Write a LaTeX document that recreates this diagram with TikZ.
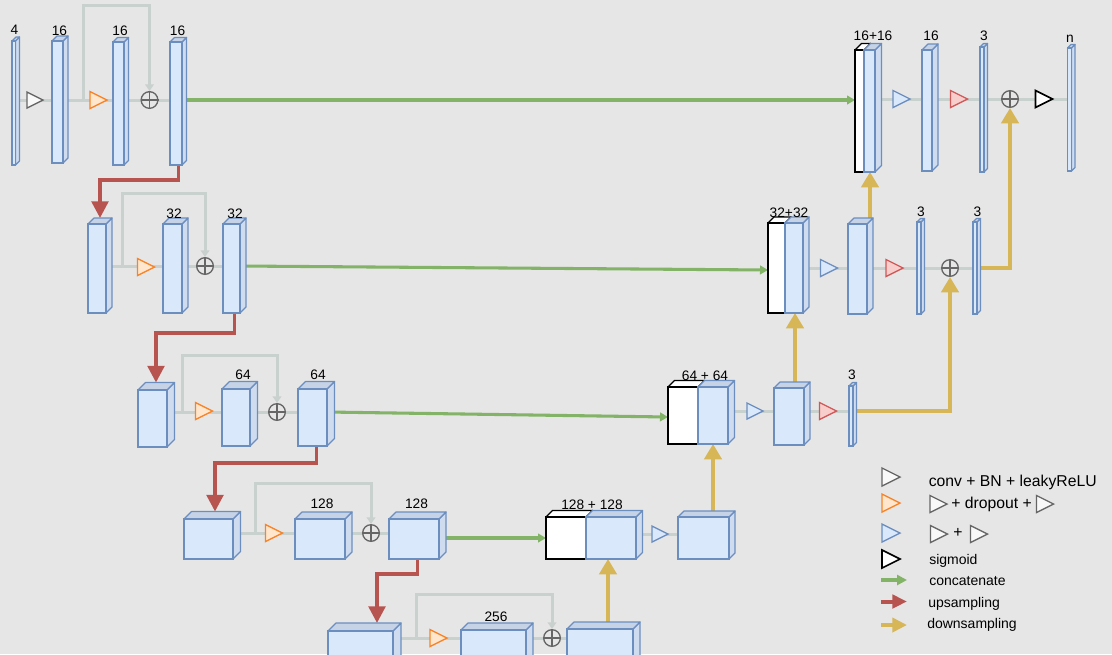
\documentclass[tikz,border=0pt]{standalone}
\usepackage{fontspec}
\setmainfont{Liberation Sans}
\usetikzlibrary{arrows.meta,fit}
\definecolor{bgc}{HTML}{E6E6E6}
\definecolor{bfill}{HTML}{DAE8FC}
\definecolor{bstroke}{HTML}{6C8EBF}
\definecolor{btopc}{HTML}{C6D3E6}
\definecolor{bsidec}{HTML}{CFDCEF}
\definecolor{gline}{HTML}{C9D1CE}
\definecolor{grn}{HTML}{82B366}
\definecolor{rdd}{HTML}{B85450}
\definecolor{ylw}{HTML}{D6B656}
\definecolor{orS}{HTML}{F5842A}
\definecolor{orF}{HTML}{FFE6CC}
\definecolor{rdS}{HTML}{CF5858}
\definecolor{rdF}{HTML}{F8CECC}
\definecolor{opc}{HTML}{666666}
\pgfdeclarelayer{bg}
\pgfsetlayers{bg,main}
\tikzset{
 bfront/.style={draw=bstroke, fill=bfill, line width=0.9pt, inner sep=0pt, outer sep=0pt},
 btop/.style={draw=bstroke, fill=btopc, line width=0.9pt, line join=round},
 bside/.style={draw=bstroke, fill=bsidec, line width=0.9pt, line join=round},
 wfront/.style={draw=black, fill=white, line width=1pt, inner sep=0pt, outer sep=0pt},
 wtop/.style={draw=black, fill=white, line width=1pt, line join=round},
 wside/.style={draw=black, fill=white, line width=1pt, line join=round},
 gtri/.style={draw=opc, fill=white!75!bgc, line width=1pt},
 otri/.style={draw=orS, fill=orF, line width=1pt},
 btri/.style={draw=bstroke, fill=bfill, line width=1pt},
 rtri/.style={draw=rdS, fill=rdF, line width=1pt},
 ktri/.style={draw=black, fill=white, line width=1.2pt},
 oplus/.style={circle, draw=opc, fill=bgc, line width=1pt, minimum size=12.5pt, inner sep=0pt},
 gln/.style={draw=gline, line width=2.25pt},
 skiparr/.style={draw=gline, line width=2.25pt, line join=miter, -{Triangle[length=5pt,width=6.5pt]}},
 garr/.style={draw=grn, line width=2.3pt, -{Triangle[length=6pt,width=6.5pt]}},
 rarr/.style={draw=rdd, line width=2.6pt, line join=miter, -{Triangle[length=12.5pt,width=12.5pt]}},
 yarr/.style={draw=ylw, line width=2.5pt, line join=miter, -{Triangle[length=11.5pt,width=13pt]}},
 lab/.style={inner sep=0pt, font=\fontsize{10.3}{12}\selectfont, anchor=base},
 legbig/.style={inner sep=0pt, font=\fontsize{11.8}{14}\selectfont, anchor=base west},
 legsm/.style={inner sep=0pt, font=\fontsize{10.5}{13}\selectfont, anchor=base west},
}
\newcommand\mkcube[7]{%
  \path[#1side] (#5,#4) -- (#5+#7,#4-#7) -- (#5+#7,#6-#7) -- (#5,#6) -- cycle;
  \path[#1top] (#3,#4) -- (#3+#7,#4-#7) -- (#5+#7,#4-#7) -- (#5,#4) -- cycle;
  \node[#1front, fit={(#3,#4) (#5,#6)}] (#2) {};
  \coordinate (#2-t) at ({(#3+#5+#7)/2},{#4-#7});
  \coordinate (#2-b) at ({(#3+#5+#7)/2},#6);
}
\newcommand\mktri[5]{%
  \coordinate (#2) at (#3,#4);
  \path[#1] (#3-#5,#4-#5) -- (#3+#5,#4) -- (#3-#5,#4+#5) -- cycle;
}
\newcommand\mkoplus[3]{%
  \node[oplus] (#1) at (#2,#3) {};
  \draw[opc, line width=1pt] (#1.north) -- (#1.south) (#1.west) -- (#1.east);
}
\begin{document}
\begin{tikzpicture}[x=0.75pt,y=-0.75pt]
\useasboundingbox (0,0) rectangle (1112,654);
\begin{pgfonlayer}{bg}
\fill[bgc] (0,0) rectangle (1112,654);
\end{pgfonlayer}
\clip (0,0) rectangle (1112,654);
% ---------- row 1 ----------
\mkcube{b}{b11}{12}{41}{15.5}{165}{4}
\mkcube{b}{b12}{52}{41}{63}{163}{5}
\mkcube{b}{b13}{113}{42}{124}{165}{4.5}
\mkcube{b}{b14}{170}{42}{182}{165}{4.5}
\mktri{gtri}{t11}{35}{100}{8}
\mktri{otri}{t12}{98.5}{100}{8.5}
\mkoplus{o11}{149.5}{100}
\mkcube{w}{c1w}{855}{50}{864}{172}{6.5}
\mkcube{b}{c1b}{864}{50}{875}{172}{6.5}
\mktri{btri}{t13}{901.5}{99}{8.5}
\mkcube{b}{b15}{922}{50}{932}{171}{6}
\mktri{rtri}{t14}{959}{99}{8.5}
\mkcube{b}{b16}{980}{47}{984}{172}{3.5}
\mkoplus{o12}{1010}{99}
\mktri{ktri}{t15}{1044}{99}{8.5}
\mkcube{b}{b17}{1067.5}{48}{1071.5}{171}{3.5}
\node[lab] (l11) at (14.5,34) {4};
\node[lab] (l12) at (59.5,35) {16};
\node[lab] (l13) at (120,35) {16};
\node[lab] (l14) at (177.5,35) {16};
\node[lab] (l15) at (873,40) {16+16};
\node[lab] (l16) at (931,40) {16};
\node[lab] (l17) at (984,40) {3};
\node[lab] (l18) at (1070,42) {n};
% ---------- row 2 ----------
\mkcube{b}{b21}{88}{224}{106}{313}{6}
\mktri{otri}{t21}{146}{267}{8.5}
\mkcube{b}{b22}{163}{224}{182}{313}{6}
\mkoplus{o21}{205}{266}
\mkcube{b}{b23}{223}{224}{240}{313}{6}
\mkcube{w}{c2w}{768}{223}{785}{313}{6}
\mkcube{b}{c2b}{785}{223}{803}{313}{6}
\mktri{btri}{t22}{829}{268}{8.5}
\mkcube{b}{b24}{848}{224}{867}{314}{6}
\mktri{rtri}{t23}{894.5}{268}{8.5}
\mkcube{b}{b25}{917}{222}{921}{314}{3.5}
\mkoplus{o22}{950}{268}
\mkcube{b}{b26}{973}{222}{977}{314}{3.5}
\node[lab] (l22) at (174,218) {32};
\node[lab] (l23) at (235,218) {32};
\node[lab] (l24) at (789,217) {32+32};
\node[lab] (l25) at (921,216) {3};
\node[lab] (l26) at (977.5,216) {3};
% ---------- row 3 ----------
\mkcube{b}{b31}{138}{390}{167}{447}{7.5}
\mktri{otri}{t31}{204}{411}{8.5}
\mkcube{b}{b32}{222}{389}{250}{446}{7.5}
\mkoplus{o31}{277}{412}
\mkcube{b}{b33}{298}{389}{327}{446}{7.5}
\mkcube{w}{c3w}{668}{387}{698}{444}{6.5}
\mkcube{b}{c3b}{698}{387}{728}{444}{6.5}
\mktri{btri}{t32}{755}{411}{8}
\mkcube{b}{b34}{774}{388}{804}{445}{6}
\mktri{rtri}{t33}{828}{411}{8.5}
\mkcube{b}{b35}{849}{386}{853}{446}{3.5}
\node[lab] (l32) at (243,379) {64};
\node[lab] (l33) at (318,379) {64};
\node[lab] (l34) at (705,380) {64 + 64};
\node[lab] (l35) at (852,379) {3};
% ---------- row 4 ----------
\mkcube{b}{b41}{184}{519}{233}{559}{7.5}
\mktri{otri}{t41}{274}{533}{8.5}
\mkcube{b}{b42}{295}{519}{345}{559}{7}
\mkoplus{o41}{371}{533}
\mkcube{b}{b43}{389}{519}{439}{559}{7}
\mkcube{w}{c4w}{546}{517}{586}{559}{6.5}
\mkcube{b}{c4b}{586}{517}{636}{559}{6.5}
\mktri{btri}{t42}{660}{534}{8}
\mkcube{b}{b44}{678}{517}{729}{559}{6}
\node[lab] (l42) at (322,508) {128};
\node[lab] (l43) at (416.5,508) {128};
\node[lab] (l44) at (592,509) {128 + 128};
% ---------- row 5 ----------
\mkcube{b}{b51}{328}{631}{393}{690}{8}
\mktri{otri}{t51}{438.5}{638}{8.5}
\mkcube{b}{b52}{461}{630}{526}{690}{7}
\mkoplus{o51}{552}{638}
\mkcube{b}{b53}{567}{629}{633}{690}{7}
\node[lab] (l52) at (496,621) {256};
% ---------- legend ----------
\mktri{gtri}{lg1}{891}{477}{9}
\node[legbig] (lt1) at (928.5,486) {conv + BN + leakyReLU};
\mktri{otri}{lg2}{891}{503}{9}
\mktri{gtri}{lg2a}{938.5}{504}{8.5}
\node[legbig] (lt2) at (951,508) {+ dropout +};
\mktri{gtri}{lg2b}{1045}{504}{8.5}
\mktri{btri}{lg3}{891}{533}{9}
\mktri{gtri}{lg3a}{939}{534}{8.5}
\node[inner sep=0pt, font=\fontsize{11.8}{14}\selectfont] (lt3) at (958,533) {+};
\mktri{gtri}{lg3b}{979}{534}{8.5}
\mktri{ktri}{lg4}{891}{559}{9}
\node[legsm] (lt4) at (929,564) {sigmoid};
\coordinate (la1) at (881,580); \coordinate (la1e) at (907,580);
\node[legsm] (lt5) at (929,585) {concatenate};
\coordinate (la2) at (881,601.5); \coordinate (la2e) at (907,601.5);
\node[legsm] (lt6) at (928,607) {upsampling};
\coordinate (la3) at (881,625); \coordinate (la3e) at (907,625);
\node[legsm] (lt7) at (927,628) {downsampling};
% ---------- helper coordinates ----------
\coordinate (k1) at (83,5);
\coordinate (k2) at (122,193);
\coordinate (k3) at (182,355);
\coordinate (k4) at (255,483);
\coordinate (k5) at (416,594);
\coordinate (r1) at (100,180);
\coordinate (r2) at (156,333);
\coordinate (r3) at (215,463);
\coordinate (r4) at (377,574);
\coordinate (g2) at (0,270);
\coordinate (g3) at (0,417);
\coordinate (g4) at (0,538);
\coordinate (yc1) at (870,0);
\coordinate (yc2) at (795,0);
\coordinate (yc3) at (713,0);
\coordinate (yc4) at (608,0);
% ---------- connectors ----------
\begin{pgfonlayer}{bg}
% gray rows
\draw[gln] (b11.east |- o11) -- (b14.west |- o11);
\draw[gln] (c1b.east |- o12) -- (b17.west |- o12);
\draw[gln] (b21.east |- o21) -- (b23.west |- o21);
\draw[gln] (c2b.east |- o22) -- (b26.west |- o22);
\draw[gln] (b31.east |- o31) -- (b33.west |- o31);
\draw[gln] (c3b.east |- t32) -- (b35.west |- t32);
\draw[gln] (b41.east |- o41) -- (b43.west |- o41);
\draw[gln] (c4b.east |- t42) -- (b44.west |- t42);
\draw[gln] (b51.east |- o51) -- (b53.west |- o51);
% skips
\draw[skiparr] (k1 |- o11) -- (k1) -| (o11.north);
\draw[skiparr] (k2 |- o21) -- (k2) -| (o21.north);
\draw[skiparr] (k3 |- o31) -- (k3) -| (o31.north);
\draw[skiparr] (k4 |- o41) -- (k4) -| (o41.north);
\draw[skiparr] (k5 |- o51) -- (k5) -| (o51.north);
% concatenate
\draw[garr] (b14.east |- o11) -- (c1w.west |- o11);
\draw[garr] (b23.east |- o21) -- (c2w.west |- g2);
\draw[garr] (b33.east |- o31) -- (c3w.west |- g3);
\draw[garr] (b43.east |- g4) -- (c4w.west |- g4);
% upsampling
\draw[rarr] (b14-b) |- (r1) -- (b21-t -| r1);
\draw[rarr] (b23-b) |- (r2) -- (b31-t -| r2);
\draw[rarr] (b33-b) |- (r3) -- (b41-t -| r3);
\draw[rarr] (b43-b) |- (r4) -- (b51-t -| r4);
% downsampling
\draw[yarr] (b53.north -| yc4) -- (c4b.south -| yc4);
\draw[yarr] (b44.north -| yc3) -- (c3b.south -| yc3);
\draw[yarr] (b34.north -| yc2) -- (c2b.south -| yc2);
\draw[yarr] (b24.north -| yc1) -- (c1b.south -| yc1);
\draw[yarr] (b35.east |- t33) -| (o22.south);
\draw[yarr] (b26.east |- o22) -| (o12.south);
% legend arrows
\draw[draw=grn, line width=2.5pt, -{Triangle[length=7.5pt,width=7.5pt]}] (la1) -- (la1e);
\draw[draw=rdd, line width=3pt, -{Triangle[length=11pt,width=10pt]}] (la2) -- (la2e);
\draw[draw=ylw, line width=3pt, -{Triangle[length=11pt,width=10.5pt]}] (la3) -- (la3e);
\end{pgfonlayer}
\end{tikzpicture}
\end{document}
